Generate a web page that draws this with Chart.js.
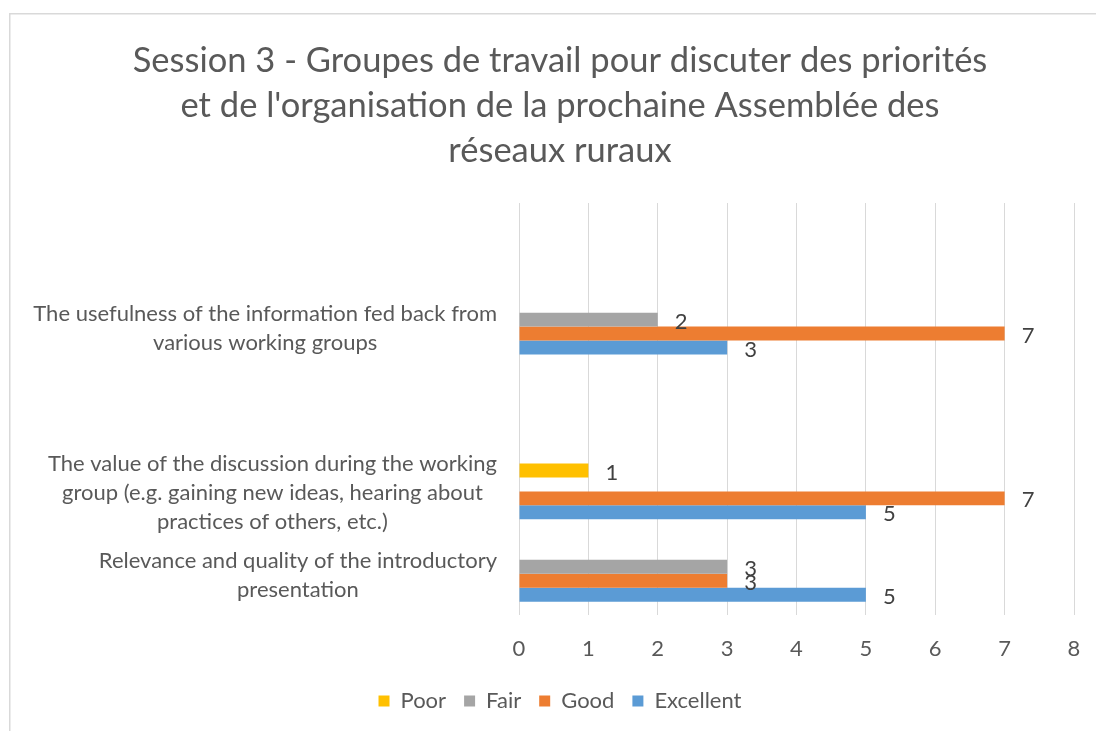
<!DOCTYPE html>
<html>
<head>
<meta charset="utf-8">
<script src="https://cdn.jsdelivr.net/npm/chart.js@4/dist/chart.umd.min.js"></script>
<style>
  html, body { margin: 0; padding: 0; background: #fff; overflow: hidden; }
</style>
</head>
<body>
<canvas id="chart" width="1120" height="731"></canvas>
<script>
// chart text and values
const titleLines = [
  'Session 3 - Groupes de travail pour discuter des priorités',
  "et de l'organisation de la prochaine Assemblée des",
  'réseaux ruraux'
];
// empty slots keep the same spacing as the original sheet
const categories = [
  [],
  ['The usefulness of the information fed back from', 'various working groups'],
  [],
  ['The value of the discussion during the working', 'group (e.g. gaining new ideas, hearing about', 'practices of others, etc.)'],
  ['Relevance and quality of the introductory', 'presentation']
];
const seriesNames = ['Poor', 'Fair', 'Good', 'Excellent'];
const poorValues = [null, null, null, 1, null];
const fairValues = [null, 2, null, null, 3];
const goodValues = [null, 7, null, 7, 3];
const excellentValues = [null, 3, null, 5, 5];
const seriesColors = ['#FFC000', '#A5A5A5', '#ED7D31', '#5B9BD5'];
const xMin = 0, xMax = 8, xStep = 1;

const FONT = "Lato, 'Open Sans', sans-serif";
const TEXT = '#595959';
const LABEL_SIZE = 22;

Chart.defaults.font.family = FONT;
Chart.defaults.color = TEXT;

// light frame like the spreadsheet chart area (cut at right/bottom)
const framePlugin = {
  id: 'frame',
  beforeDraw(chart) {
    const ctx = chart.ctx;
    ctx.save();
    ctx.fillStyle = '#fff';
    ctx.fillRect(0, 0, chart.width, chart.height);
    ctx.strokeStyle = '#d9d9d9';
    ctx.lineWidth = 1.5;
    ctx.strokeRect(9.75, 13.75, chart.width + 50, chart.height + 50);
    ctx.restore();
  }
};

// category labels: block right aligned, lines centred inside the block
const catLabelPlugin = {
  id: 'catLabels',
  afterDraw(chart) {
    const ctx = chart.ctx;
    const scale = chart.scales.y;
    const lineH = 29;
    ctx.save();
    ctx.font = LABEL_SIZE + 'px ' + FONT;
    ctx.fillStyle = TEXT;
    ctx.textAlign = 'center';
    ctx.textBaseline = 'middle';
    const right = chart.chartArea.left - 22;
    categories.forEach((lines, i) => {
      if (!lines.length) return;
      const y = scale.getPixelForValue(i) + 2;
      const widest = Math.max(...lines.map(l => ctx.measureText(l).width));
      const cx = right - widest / 2;
      lines.forEach((l, k) => {
        ctx.fillText(l, cx, y + (k - (lines.length - 1) / 2) * lineH);
      });
    });
    ctx.restore();
  }
};

// value labels just past the end of each bar
const valueLabelPlugin = {
  id: 'valueLabels',
  afterDatasetsDraw(chart) {
    const ctx = chart.ctx;
    ctx.save();
    ctx.font = LABEL_SIZE + 'px ' + FONT;
    ctx.fillStyle = '#404040';
    ctx.textAlign = 'left';
    ctx.textBaseline = 'middle';
    chart.data.datasets.forEach((ds, di) => {
      const meta = chart.getDatasetMeta(di);
      meta.data.forEach((bar, i) => {
        const v = ds.data[i];
        if (v === null || v === undefined) return;
        ctx.fillText(String(v), bar.x + 17, bar.y + 2);
      });
    });
    ctx.restore();
  }
};

const seriesData = [poorValues, fairValues, goodValues, excellentValues];

new Chart(document.getElementById('chart'), {
  type: 'bar',
  data: {
    labels: categories.map(c => c.join(' ')),
    datasets: seriesNames.map((name, i) => ({
      label: name,
      data: seriesData[i],
      backgroundColor: seriesColors[i],
      borderWidth: 0,
      categoryPercentage: 0.676,
      barPercentage: 1.0
    }))
  },
  options: {
    indexAxis: 'y',
    responsive: false,
    animation: false,
    layout: { padding: { top: 0, left: 0, right: 0, bottom: 9 } },
    scales: {
      x: {
        min: xMin,
        max: xMax,
        grid: { color: '#d9d9d9', lineWidth: 1, drawTicks: false },
        border: { display: false },
        ticks: { stepSize: xStep, padding: 21, color: TEXT, font: { size: LABEL_SIZE } },
        afterFit(s) { s.height = 57; }
      },
      y: {
        grid: { display: false, drawTicks: false },
        border: { display: false },
        ticks: { display: false },
        afterFit(s) { s.width = 519; }
      },
      yRight: {
        type: 'linear',
        position: 'right',
        display: true,
        grid: { display: false, drawTicks: false },
        border: { display: false },
        ticks: { display: false },
        afterFit(s) { s.width = 46; }
      }
    },
    plugins: {
      title: {
        display: true,
        text: titleLines,
        color: TEXT,
        font: { size: 34.5, weight: 'normal', lineHeight: 45 / 34.5 },
        padding: { top: 38.5, bottom: 29.5 }
      },
      legend: {
        position: 'bottom',
        labels: {
          boxWidth: 11,
          boxHeight: 11,
          padding: 18,
          color: TEXT,
          font: { size: LABEL_SIZE }
        }
      },
      tooltip: { enabled: false }
    }
  },
  plugins: [framePlugin, catLabelPlugin, valueLabelPlugin]
});
</script>
</body>
</html>
